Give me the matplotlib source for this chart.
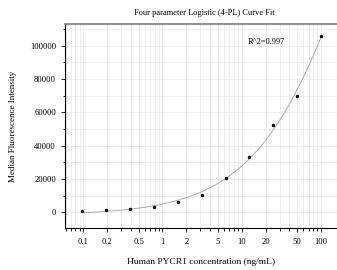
import numpy as np
import matplotlib
matplotlib.use("Agg")
import matplotlib.pyplot as plt
from matplotlib.ticker import FixedLocator, NullFormatter, MultipleLocator

conc = [0.098, 0.195, 0.39, 0.78, 1.56, 3.125, 6.25, 12.5, 25, 50, 100]
mfi = [1000, 1200, 2000, 3500, 6200, 10500, 20500, 33500, 52500, 70000, 106000]
xticks = [0.1, 0.2, 0.5, 1, 2, 5, 10, 20, 50, 100]
xticklabels = ["0.1", "0.2", "0.5", "1", "2", "5", "10", "20", "50", "100"]
r2_text = "R^2=0.997"

plt.rcParams['font.family'] = ['Liberation Serif', 'DejaVu Serif']

x = np.array(conc, float)
y = np.array(mfi, float)

# 4PL fit: grid search on B, C; linear least squares for A, D
best = None
for B in np.linspace(0.3, 3.0, 136):
    for logC in np.linspace(-1, 4, 251):
        C = 10 ** logC
        f = 1.0 / (1.0 + (x / C) ** B)
        M = np.column_stack([f, 1 - f])
        coef, *_ = np.linalg.lstsq(M, y, rcond=None)
        res = np.sum((M @ coef - y) ** 2)
        if best is None or res < best[0]:
            best = (res, B, C, coef)
_, B, C, (A, D) = best
xf = np.logspace(np.log10(0.1), np.log10(100), 300)
yf = D + (A - D) / (1 + (xf / C) ** B)

fig = plt.figure(figsize=(3.37, 2.70), dpi=100)
ax = fig.add_axes([65 / 337, 42 / 270, 272 / 337, 204 / 270])
ax.plot(xf, yf, color="#a0a0a0", lw=0.6, zorder=2)
ax.scatter(x, y, s=6, color="black", zorder=3, linewidths=0)

ax.set_xscale("log")
ax.set_xlim(0.059, 159)
ax.set_ylim(-9300, 113000)
ax.xaxis.set_major_locator(FixedLocator(xticks))
ax.set_xticklabels(xticklabels)
minors = [m * 10 ** e for e in range(-2, 3) for m in range(1, 10)]
minors = [v for v in minors if v not in xticks]
ax.xaxis.set_minor_locator(FixedLocator(minors))
ax.xaxis.set_minor_formatter(NullFormatter())
ax.yaxis.set_major_locator(MultipleLocator(20000))
ax.yaxis.set_minor_locator(MultipleLocator(10000))

ax.grid(True, which="both", color="#e8e8e8", lw=0.5, zorder=0)
ax.set_axisbelow(True)
ax.tick_params(which="both", direction="out", labelsize=6.2, width=0.6, color="black")
ax.tick_params(which="major", length=3)
ax.tick_params(which="minor", length=1.8)
ax.tick_params(axis="x", pad=4)

ax.spines["right"].set_visible(False)
ax.spines["top"].set_color("#7a7a7a")
ax.spines["top"].set_linewidth(1.2)
ax.spines["left"].set_linewidth(0.8)
ax.spines["bottom"].set_linewidth(0.8)

ax.text(0.67, 0.9, r2_text, transform=ax.transAxes, fontsize=6)
fig.text(0.605, 0.943, "Four parameter Logistic (4-PL) Curve Fit", ha="center", fontsize=6)
ax.set_xlabel("Human PYCR1 concentration (ng/mL)", fontsize=6.8, labelpad=9)
ax.set_ylabel("Median Fluorescence Intensity", fontsize=6.5, labelpad=9)

fig.savefig("out.png", dpi=100)
